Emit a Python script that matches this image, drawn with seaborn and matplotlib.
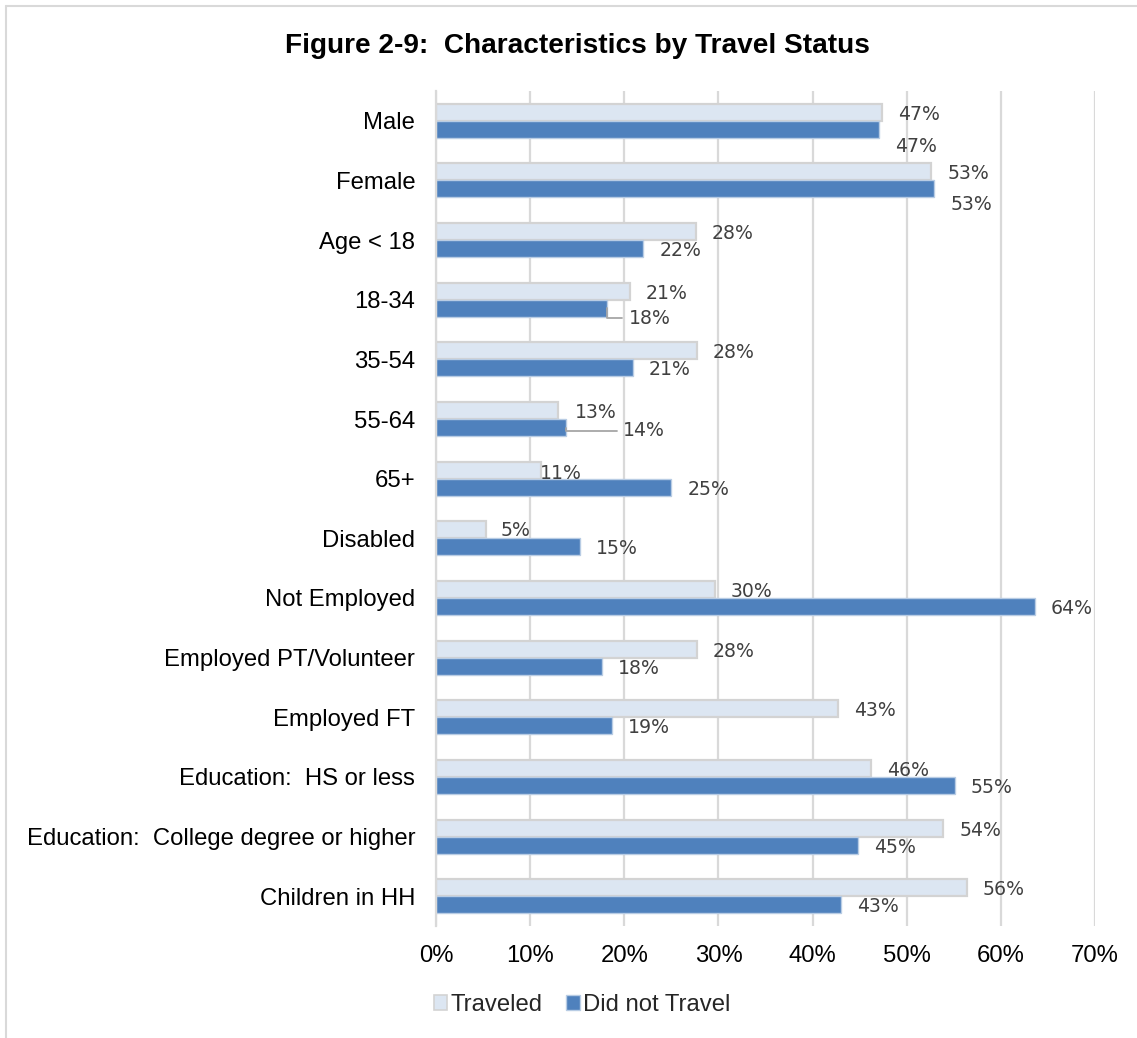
import matplotlib
matplotlib.use("Agg")
import matplotlib.pyplot as plt
from matplotlib.lines import Line2D
from matplotlib.patches import Patch
import seaborn as sns
import pandas as pd

# Share of respondents in each group, by travel status (percent)
categories = [
    "Male", "Female", "Age < 18", "18-34", "35-54", "55-64", "65+",
    "Disabled", "Not Employed", "Employed PT/Volunteer", "Employed FT",
    "Education:  HS or less", "Education:  College degree or higher",
    "Children in HH",
]
traveled = [47.4, 52.6, 27.6, 20.6, 27.7, 13.0, 11.2, 5.3, 29.6, 27.7, 42.7, 46.2, 53.9, 56.4]
did_not_travel = [47.1, 52.9, 22.0, 18.2, 20.9, 13.8, 25.0, 15.3, 63.6, 17.6, 18.7, 55.1, 44.8, 43.0]
series_names = ["Traveled", "Did not Travel"]
x_ticks = [0, 10, 20, 30, 40, 50, 60, 70]

df = pd.DataFrame({
    "Category": categories * 2,
    "Share": traveled + did_not_travel,
    "Status": [series_names[0]] * len(categories) + [series_names[1]] * len(categories),
})

LIGHT = "#dce6f2"
LIGHT_EDGE = "#d3d3d3"
BLUE = "#4f81bd"
BLUE_EDGE = "#b8cce4"
GRID = "#d9d9d9"
LABEL_FONT = "Liberation Sans"

sns.set_theme(style="white")
plt.rcParams["font.family"] = [LABEL_FONT, "DejaVu Sans"]

fig = plt.figure(figsize=(11.37, 10.38), dpi=100)
ax = fig.add_axes([0.3835, 0.1079, 0.5796, 0.8044])

sns.barplot(
    data=df, y="Category", x="Share", hue="Status",
    hue_order=series_names, order=categories,
    palette=[LIGHT, BLUE], width=0.57, orient="h",
    saturation=1, ax=ax, legend=False,
)

# bar outlines
for container, edge, lw in zip(ax.containers, [LIGHT_EDGE, BLUE_EDGE], [1.6, 1.0]):
    for patch in container:
        patch.set_edgecolor(edge)
        patch.set_linewidth(lw)

ax.set_xlim(x_ticks[0], x_ticks[-1])
ax.set_xticks(x_ticks)
ax.set_xticklabels([f"{t}%" for t in x_ticks])
ax.set_xlabel("")
ax.set_ylabel("")
ax.xaxis.grid(True, color=GRID, linewidth=1.6)
ax.set_axisbelow(True)
for side in ["top", "right", "bottom"]:
    ax.spines[side].set_visible(False)
ax.spines["left"].set_color(GRID)
ax.spines["left"].set_linewidth(1.6)
ax.tick_params(axis="y", length=0, pad=15, labelsize=17.2, labelcolor="#000000")
ax.tick_params(axis="x", length=0, pad=14, labelsize=17.2, labelcolor="#000000")

# data labels: default nudge from the bar end, with a few hand-placed ones
DEFAULT_NUDGE = (37, -2)
nudges = {
    (1, 0): (37, -17),
    (1, 1): (37, -16),
    (1, 3): (42, -10),
    (1, 5): (78, -3),
    (0, 6): (19, -3),
    (0, 7): (30, -1),
}
leaders = {(1, 3), (1, 5)}

for s, container in enumerate(ax.containers):
    for i, patch in enumerate(container):
        value = patch.get_width()
        yc = patch.get_y() + patch.get_height() / 2
        dx, dy = nudges.get((s, i), DEFAULT_NUDGE)
        ax.annotate(
            f"{value:.0f}%", xy=(value, yc), xytext=(dx, dy),
            textcoords="offset pixels", ha="center", va="center",
            fontsize=13.6, color="#404040", family="DejaVu Sans",
            annotation_clip=False,
        )
        if (s, i) in leaders:
            ax.annotate(
                "", xy=(value, yc), xytext=(dx - 27, dy),
                textcoords="offset pixels",
                arrowprops=dict(arrowstyle="-", color="#a6a6a6", lw=1.3,
                                shrinkA=0, shrinkB=0,
                                connectionstyle="angle,angleA=0,angleB=90,rad=0"),
                annotation_clip=False,
            )

fig.text(0.508, 0.956, "Figure 2-9:  Characteristics by Travel Status",
         ha="center", va="center", fontsize=20.2, fontweight="bold",
         family=LABEL_FONT, color="#000000")

handles = [
    Patch(facecolor=LIGHT, edgecolor=LIGHT_EDGE, linewidth=1.2),
    Patch(facecolor=BLUE, edgecolor=BLUE_EDGE, linewidth=1.0),
]
fig.legend(handles, series_names, loc="center", bbox_to_anchor=(0.512, 0.032),
           ncol=2, frameon=False, fontsize=17.2, handlelength=0.55,
           handleheight=0.55, handletextpad=0.15, columnspacing=1.0)

# chart frame
fig.add_artist(Line2D([6 / 1137, 6 / 1137], [0, 1 - 6 / 1038],
                      transform=fig.transFigure, color=GRID, lw=1.5))
fig.add_artist(Line2D([6 / 1137, 1], [1 - 6 / 1038, 1 - 6 / 1038],
                      transform=fig.transFigure, color=GRID, lw=1.5))

fig.savefig("out.png", dpi=100, facecolor="white")
